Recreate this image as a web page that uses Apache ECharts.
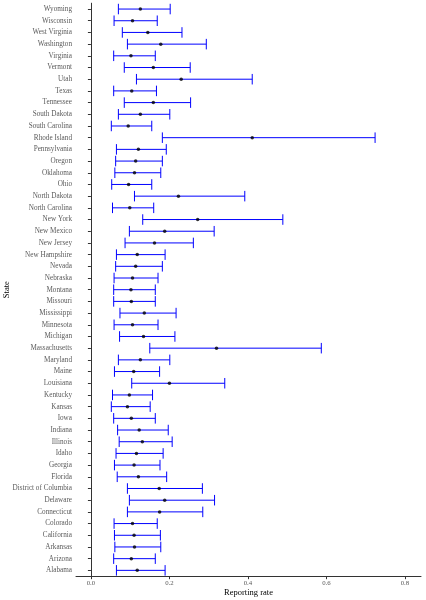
<!DOCTYPE html>
<html>
<head>
<meta charset="utf-8">
<script src="https://cdn.jsdelivr.net/npm/echarts@6/dist/echarts.min.js"></script>
<style>
html,body{margin:0;padding:0;background:#fff;}
#chart{width:426px;height:600px;}
</style>
</head>
<body>
<div id="chart"></div>
<script>
// Categories, bottom to top (Alabama at bottom)
const states = ["Alabama","Arizona","Arkansas","California","Colorado","Connecticut","Delaware","District of Columbia","Florida","Georgia","Idaho","Illinois","Indiana","Iowa","Kansas","Kentucky","Louisiana","Maine","Maryland","Massachusetts","Michigan","Minnesota","Mississippi","Missouri","Montana","Nebraska","Nevada","New Hampshire","New Jersey","New Mexico","New York","North Carolina","North Dakota","Ohio","Oklahoma","Oregon","Pennsylvania","Rhode Island","South Carolina","South Dakota","Tennessee","Texas","Utah","Vermont","Virginia","Washington","West Virginia","Wisconsin","Wyoming"];
const estimate = [0.118,0.103,0.111,0.110,0.106,0.175,0.188,0.174,0.121,0.110,0.116,0.131,0.123,0.103,0.093,0.098,0.200,0.109,0.126,0.320,0.134,0.106,0.136,0.103,0.102,0.106,0.114,0.118,0.162,0.188,0.272,0.099,0.223,0.096,0.111,0.114,0.121,0.411,0.095,0.126,0.159,0.104,0.230,0.159,0.102,0.178,0.145,0.106,0.126];
const lower = [0.065,0.058,0.061,0.060,0.059,0.093,0.098,0.093,0.067,0.060,0.064,0.072,0.068,0.058,0.052,0.055,0.104,0.060,0.070,0.150,0.073,0.059,0.074,0.058,0.058,0.059,0.063,0.065,0.087,0.098,0.132,0.055,0.111,0.053,0.061,0.063,0.065,0.182,0.052,0.070,0.085,0.058,0.116,0.085,0.058,0.093,0.080,0.059,0.070];
const upper = [0.189,0.164,0.178,0.177,0.169,0.285,0.315,0.284,0.193,0.176,0.184,0.207,0.197,0.164,0.151,0.157,0.341,0.175,0.201,0.587,0.214,0.171,0.217,0.164,0.164,0.171,0.182,0.189,0.261,0.314,0.489,0.160,0.392,0.155,0.178,0.182,0.192,0.724,0.155,0.201,0.254,0.167,0.411,0.253,0.164,0.294,0.232,0.169,0.202];
const xTicks = [0, 0.2, 0.4, 0.6, 0.8];

const barData = states.map((s, i) => [lower[i], upper[i], i]);
const pointData = states.map((s, i) => [estimate[i], i]);

const FONT = "Liberation Serif";
const chart = echarts.init(document.getElementById('chart'), null, {renderer: 'canvas'});
chart.setOption({
  animation: false,
  backgroundColor: '#ffffff',
  grid: {left: 76, right: 5, top: 3.2, bottom: 23.8, containLabel: false, outerBoundsMode: 'none'},
  xAxis: {
    type: 'value',
    min: -0.038,
    max: 0.841,
    name: 'Reporting rate',
    nameLocation: 'middle',
    nameGap: 12.5,
    nameMoveOverlap: false,
    nameTextStyle: {fontFamily: FONT, fontSize: 8.5, color: '#000', verticalAlign: 'top'},
    axisLine: {show: true, lineStyle: {color: '#333', width: 1}},
    axisTick: {show: true, length: 3, lineStyle: {color: '#333'}, customValues: xTicks},
    axisLabel: {fontFamily: FONT, fontSize: 6.8, color: '#5a5a5a', margin: 4,
      customValues: xTicks, formatter: v => v.toFixed(1)},
    splitLine: {show: false}
  },
  yAxis: {
    type: 'category',
    data: states,
    name: 'State',
    nameLocation: 'middle',
    nameGap: 65,
    nameRotate: 90,
    nameMoveOverlap: false,
    nameTextStyle: {fontFamily: FONT, fontSize: 8.5, color: '#000'},
    axisLine: {show: true, lineStyle: {color: '#333', width: 1}},
    axisTick: {show: true, length: 3, alignWithLabel: true, lineStyle: {color: '#333'}},
    axisLabel: {fontFamily: FONT, fontSize: 7.2, color: '#5a5a5a', margin: 4, interval: 0},
    splitLine: {show: false}
  },
  series: [
    {
      type: 'custom',
      data: barData,
      encode: {x: [0, 1], y: 2},
      renderItem: function (params, api) {
        const y = api.value(2);
        const p1 = api.coord([api.value(0), y]);
        const p2 = api.coord([api.value(1), y]);
        const h = api.size([0, 1])[1] * 0.45;
        const style = {stroke: '#0000ff', lineWidth: 1, fill: null};
        return {
          type: 'group',
          children: [
            {type: 'line', shape: {x1: p1[0], y1: p1[1], x2: p2[0], y2: p2[1]}, style: style},
            {type: 'line', shape: {x1: p1[0], y1: p1[1] - h, x2: p1[0], y2: p1[1] + h}, style: style},
            {type: 'line', shape: {x1: p2[0], y1: p2[1] - h, x2: p2[0], y2: p2[1] + h}, style: style}
          ]
        };
      },
      z: 2
    },
    {
      type: 'scatter',
      data: pointData,
      symbol: 'circle',
      symbolSize: 3.5,
      itemStyle: {color: '#000'},
      z: 3
    }
  ]
});
</script>
</body>
</html>
